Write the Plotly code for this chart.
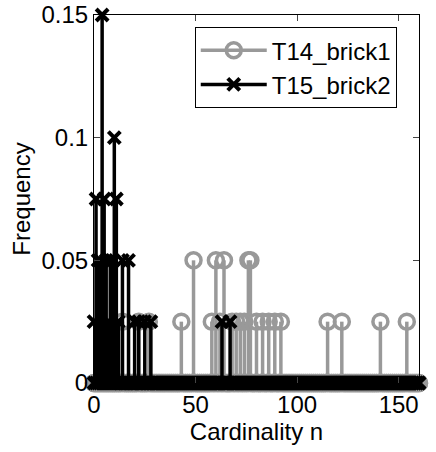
import plotly.graph_objects as go

# ---- data ----
n_max = 160
series_names = ["T14_brick1", "T15_brick2"]

gray_n = [14, 22, 27, 43, 49, 58, 60, 62, 64, 68, 70, 72, 74, 76, 77, 80, 83, 86, 89, 92, 115, 122, 141, 154]
gray_v = [0.025, 0.025, 0.025, 0.025, 0.05, 0.025, 0.05, 0.025, 0.05, 0.025, 0.025, 0.025,
          0.025, 0.05, 0.05, 0.025, 0.025, 0.025, 0.025, 0.025, 0.025, 0.025, 0.025, 0.025]

black_n = [0, 1, 2, 3, 4, 5, 6, 7, 8, 9, 10, 11, 12, 14, 17, 20, 22, 25, 28, 63, 67]
black_v = [0.025, 0.075, 0.05, 0.05, 0.15, 0.075, 0.05, 0.025, 0.05, 0.05, 0.1, 0.075,
           0.025, 0.05, 0.05, 0.025, 0.025, 0.025, 0.025, 0.025, 0.025]

x_ticks = [0, 50, 100, 150]
y_ticks = [0, 0.05, 0.1, 0.15]
y_ticklabels = ["0", "0.05", "0.1", "0.15"]


def stem_xy(ns, vs):
    vals = {n: v for n, v in zip(ns, vs)}
    xs, ys = [], []
    for n in range(0, n_max + 1):
        xs += [n, n, None]
        ys += [0, vals.get(n, 0.0), None]
    return xs, ys


gx, gy = stem_xy(gray_n, gray_v)
bx, by = stem_xy(black_n, black_v)

GRAY = "#999999"

fig = go.Figure()
fig.add_trace(go.Scatter(
    x=gx, y=gy, name=series_names[0], mode="lines+markers",
    line=dict(color=GRAY, width=3.5),
    marker=dict(symbol="circle-open", size=15, color=GRAY, line=dict(color=GRAY, width=3.5)),
    cliponaxis=False, connectgaps=False,
))
fig.add_trace(go.Scatter(
    x=bx, y=by, name=series_names[1], mode="lines+markers",
    line=dict(color="black", width=3.5),
    marker=dict(symbol="x-thin", size=12, color="black", line=dict(color="black", width=4)),
    cliponaxis=False, connectgaps=False,
))

font_family = "Liberation Sans, Arial, Helvetica, sans-serif"
fig.update_layout(
    width=436, height=452,
    margin=dict(l=94, r=17, t=15, b=69),
    paper_bgcolor="white", plot_bgcolor="white",
    font=dict(family=font_family, size=24, color="black"),
    showlegend=True,
    legend=dict(
        x=0.31, y=0.967, xanchor="left", yanchor="top",
        bgcolor="white", bordercolor="black", borderwidth=1,
        font=dict(size=24), itemwidth=66, tracegroupgap=0,
    ),
    xaxis=dict(
        range=[0, n_max], tickvals=x_ticks, ticks="inside", ticklen=6,
        showline=True, linecolor="black", linewidth=1, mirror="ticks",
        showgrid=False, zeroline=False, automargin=False,
        title=dict(text="Cardinality n", standoff=4, font=dict(size=24)),
        tickfont=dict(size=24),
    ),
    yaxis=dict(
        range=[0, 0.15], tickvals=y_ticks, ticktext=y_ticklabels, ticks="inside", ticklen=6,
        showline=True, linecolor="black", linewidth=1, mirror="ticks",
        showgrid=False, zeroline=False, automargin=False,
        title=dict(text="Frequency", standoff=4, font=dict(size=24)),
        tickfont=dict(size=24),
    ),
)

fig.write_html("out.html")
